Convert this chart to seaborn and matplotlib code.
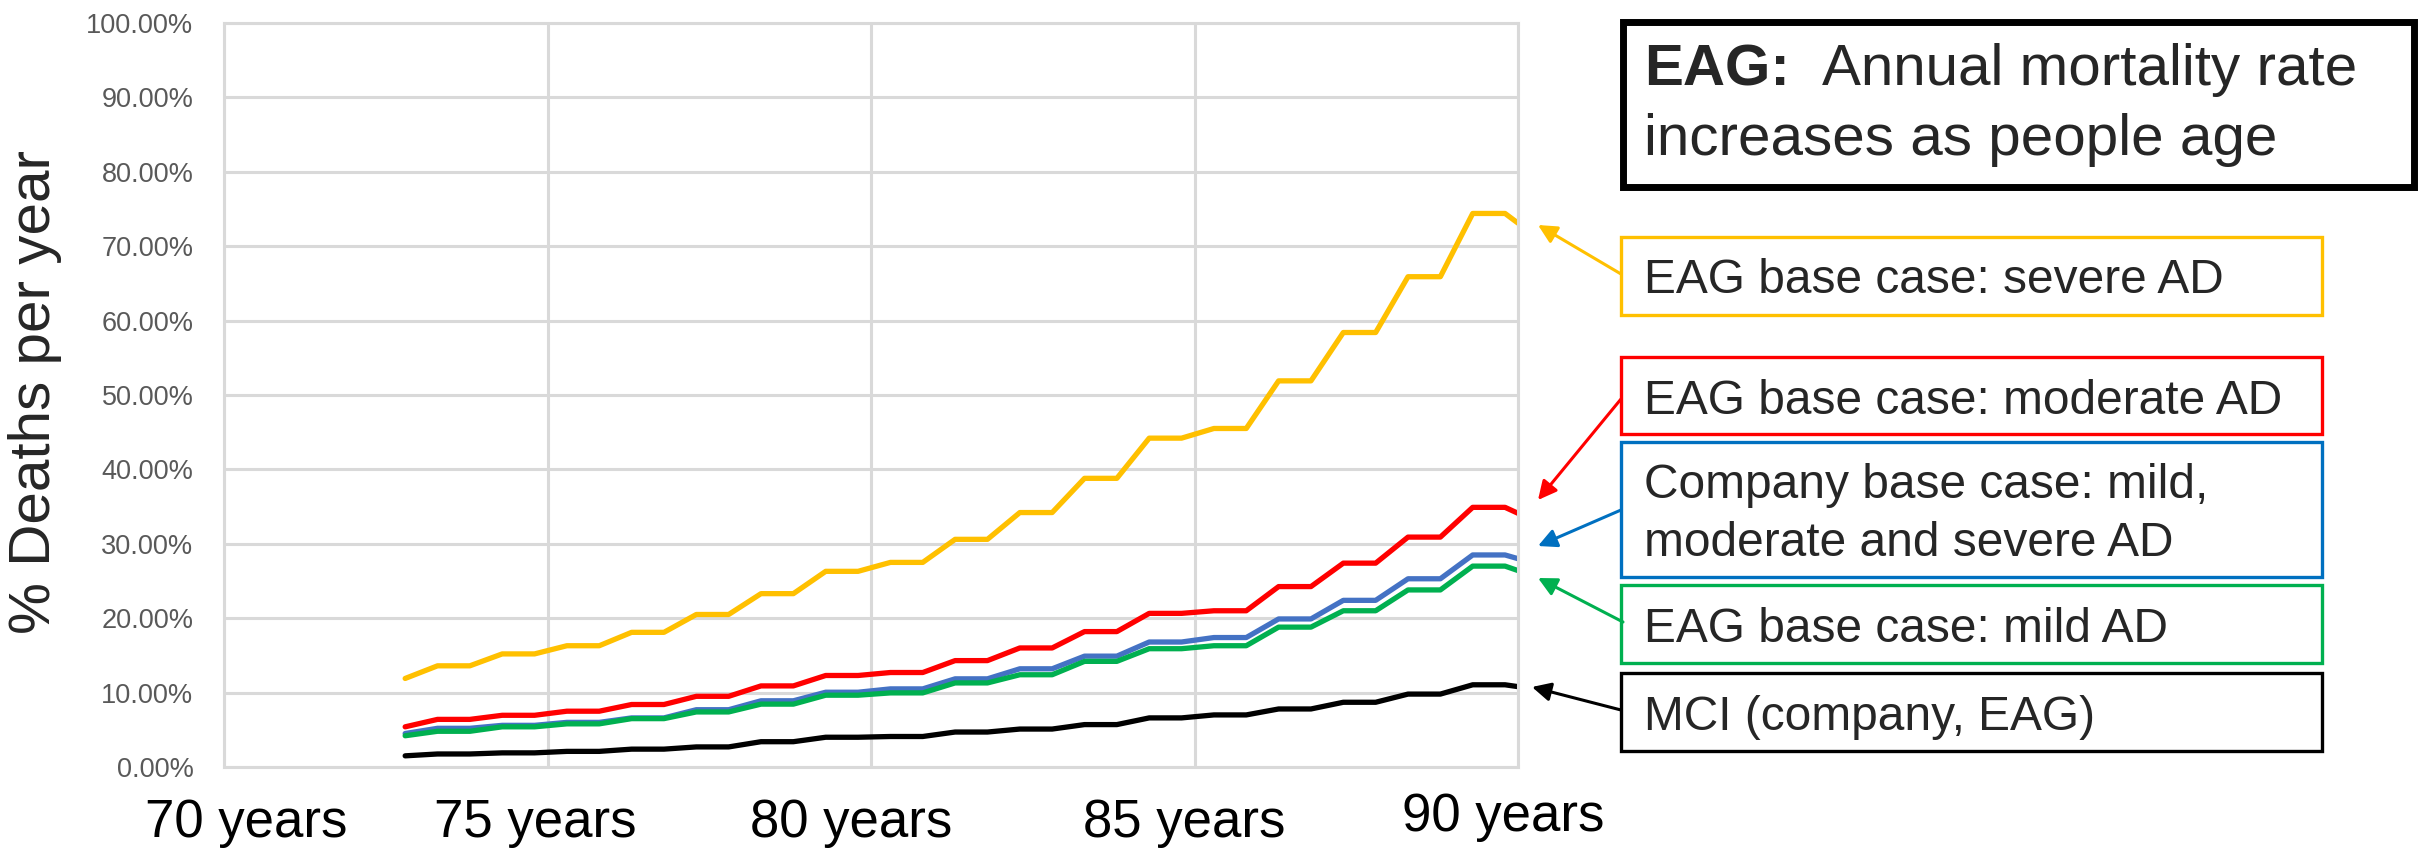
import pandas as pd
import seaborn as sns
import matplotlib.pyplot as plt
import matplotlib.transforms as mtransforms
from matplotlib.patches import Rectangle, FancyArrowPatch
from matplotlib.ticker import FuncFormatter

W, H = 2420, 851

# ages: first point, then two points per year (rate constant over the year), last point
START_AGE = 72.8
END_AGE = 90.0
YEARS = list(range(73, 90))

# annual mortality (%): start value, one value per year 73..89, end value
SEVERE = [11.9, 13.6, 15.2, 16.3, 18.1, 20.5, 23.3, 26.3, 27.5, 30.6, 34.2, 38.8,
          44.2, 45.5, 51.9, 58.4, 65.9, 74.4, 73.1]
MODERATE = [5.4, 6.4, 6.95, 7.5, 8.4, 9.5, 10.9, 12.3, 12.7, 14.3, 16.0, 18.2,
            20.65, 21.0, 24.25, 27.4, 30.9, 34.9, 34.1]
COMPANY = [4.5, 5.2, 5.6, 6.0, 6.6, 7.7, 8.9, 10.05, 10.5, 11.85, 13.2, 14.9,
           16.8, 17.4, 19.9, 22.4, 25.3, 28.5, 28.0]
MILD = [4.2, 4.8, 5.4, 5.8, 6.5, 7.4, 8.45, 9.65, 9.96, 11.3, 12.4, 14.2,
        15.9, 16.3, 18.8, 21.0, 23.8, 27.0, 26.4]
MCI = [1.5, 1.75, 1.9, 2.1, 2.4, 2.7, 3.4, 4.0, 4.1, 4.7, 5.1, 5.7,
       6.6, 7.0, 7.8, 8.7, 9.8, 11.05, 10.8]

SERIES = {"severe": SEVERE, "moderate": MODERATE, "company": COMPANY,
          "mild": MILD, "mci": MCI}
LINE_COLORS = {"severe": "#FFC000", "moderate": "#FF0000", "company": "#4472C4",
               "mild": "#00B050", "mci": "#000000"}

X_TICKS = [70, 75, 80, 85, 90]
X_LABELS = ["70 years", "75 years", "80 years", "85 years", "90 years"]
Y_TICKS = list(range(0, 101, 10))

TITLE_BOLD = "EAG:"
TITLE_REST = "Annual mortality rate"
TITLE_LINE2 = "increases as people age"

# text, box colour, box top/bottom (px), text baselines (px), arrow tail, arrow tip
CALLOUTS = [
    (["EAG base case: severe AD"], "#FFC000", 237, 315, [293], (1621, 274), (1538, 225)),
    (["EAG base case: moderate AD"], "#FF0000", 357, 434, [414], (1621, 399), (1538, 500)),
    (["Company base case: mild,", "moderate and severe AD"], "#0070C0", 442, 577, [498, 556],
     (1621, 510), (1538, 546)),
    (["EAG base case: mild AD"], "#00B050", 585, 663, [642], (1623, 622), (1538, 578)),
    (["MCI (company, EAG)"], "#000000", 673, 751, [730], (1621, 710), (1532, 687)),
]


def fx(px):
    return px / W


def fy(py):
    return 1 - py / H


def age_points():
    pts = [START_AGE]
    for y in YEARS:
        pts += [y + 0.3, y + 0.8]
    pts.append(END_AGE)
    return pts


def expand(vals):
    out = [vals[0]]
    for v in vals[1:-1]:
        out += [v, v]
    out.append(vals[-1])
    return out


def build_df():
    ages = age_points()
    rows = []
    for name, vals in SERIES.items():
        for a, v in zip(ages, expand(vals)):
            rows.append({"age": a, "rate": v, "series": name})
    return pd.DataFrame(rows)


def plot_chart(df):
    sns.set_style("white")
    plt.rcParams["font.family"] = ["Liberation Sans", "DejaVu Sans"]

    fig = plt.figure(figsize=(W / 100, H / 100), dpi=100)
    ax = fig.add_axes([fx(224), fy(767), fx(1518) - fx(224), fy(23) - fy(767)])

    sns.lineplot(data=df, x="age", y="rate", hue="series", palette=LINE_COLORS,
                 hue_order=list(SERIES.keys()), sort=False, estimator=None,
                 linewidth=3.8, legend=False, ax=ax)

    ax.set_xlim(70, 90)
    ax.set_ylim(0, 100)
    ax.set_xticks(X_TICKS)
    ax.set_xticklabels(X_LABELS)
    ax.set_yticks(Y_TICKS)
    ax.yaxis.set_major_formatter(FuncFormatter(lambda v, p: f"{v:.2f}%"))

    grid_c = "#D9D9D9"
    ax.grid(True, color=grid_c, linewidth=2.2)
    ax.set_axisbelow(True)
    for sp in ax.spines.values():
        sp.set_color(grid_c)
        sp.set_linewidth(2.2)

    ax.tick_params(axis="y", length=0, pad=22, labelsize=19.5, labelcolor="#595959")
    ax.tick_params(axis="x", length=0, pad=22, labelsize=38, labelcolor="black")

    # the category labels sit a little off the gridlines in the original
    offsets = [(22, 0), (-12, 0), (-20, 0), (-10, 0), (-15, 6)]
    for lab, (dx, dy) in zip(ax.get_xticklabels(), offsets):
        lab.set_transform(lab.get_transform() +
                          mtransforms.ScaledTranslation(dx / 100, dy / 100, fig.dpi_scale_trans))

    ax.set_xlabel("")
    ax.set_ylabel("% Deaths per year", fontsize=42)
    ax.yaxis.set_label_coords((62 - 224) / 1294, 0.504)

    # title box
    fig.add_artist(Rectangle((fx(1623), fy(187)), fx(2414) - fx(1623), fy(22) - fy(187),
                             transform=fig.transFigure, fill=False, edgecolor="black",
                             linewidth=5))
    fig.text(fx(1644), fy(85), TITLE_BOLD, fontsize=42, fontweight="bold", va="baseline")
    fig.text(fx(1822), fy(85), TITLE_REST, fontsize=42, va="baseline")
    fig.text(fx(1644), fy(155), TITLE_LINE2, fontsize=42, va="baseline")

    for lines, col, top, bot, bases, tail, tip in CALLOUTS:
        fig.add_artist(Rectangle((fx(1621), fy(bot)), fx(2322) - fx(1621), fy(top) - fy(bot),
                                 transform=fig.transFigure, fill=False, edgecolor=col,
                                 linewidth=2.4))
        for txt, b in zip(lines, bases):
            fig.text(fx(1644), fy(b), txt, fontsize=34.5, va="baseline")
        fig.add_artist(FancyArrowPatch((fx(tail[0]), fy(tail[1])), (fx(tip[0]), fy(tip[1])),
                                       transform=fig.transFigure, arrowstyle="-|>",
                                       mutation_scale=28, color=col, linewidth=2.2,
                                       shrinkA=0, shrinkB=0))

    fig.savefig("out.png", dpi=100)


if __name__ == "__main__":
    plot_chart(build_df())
